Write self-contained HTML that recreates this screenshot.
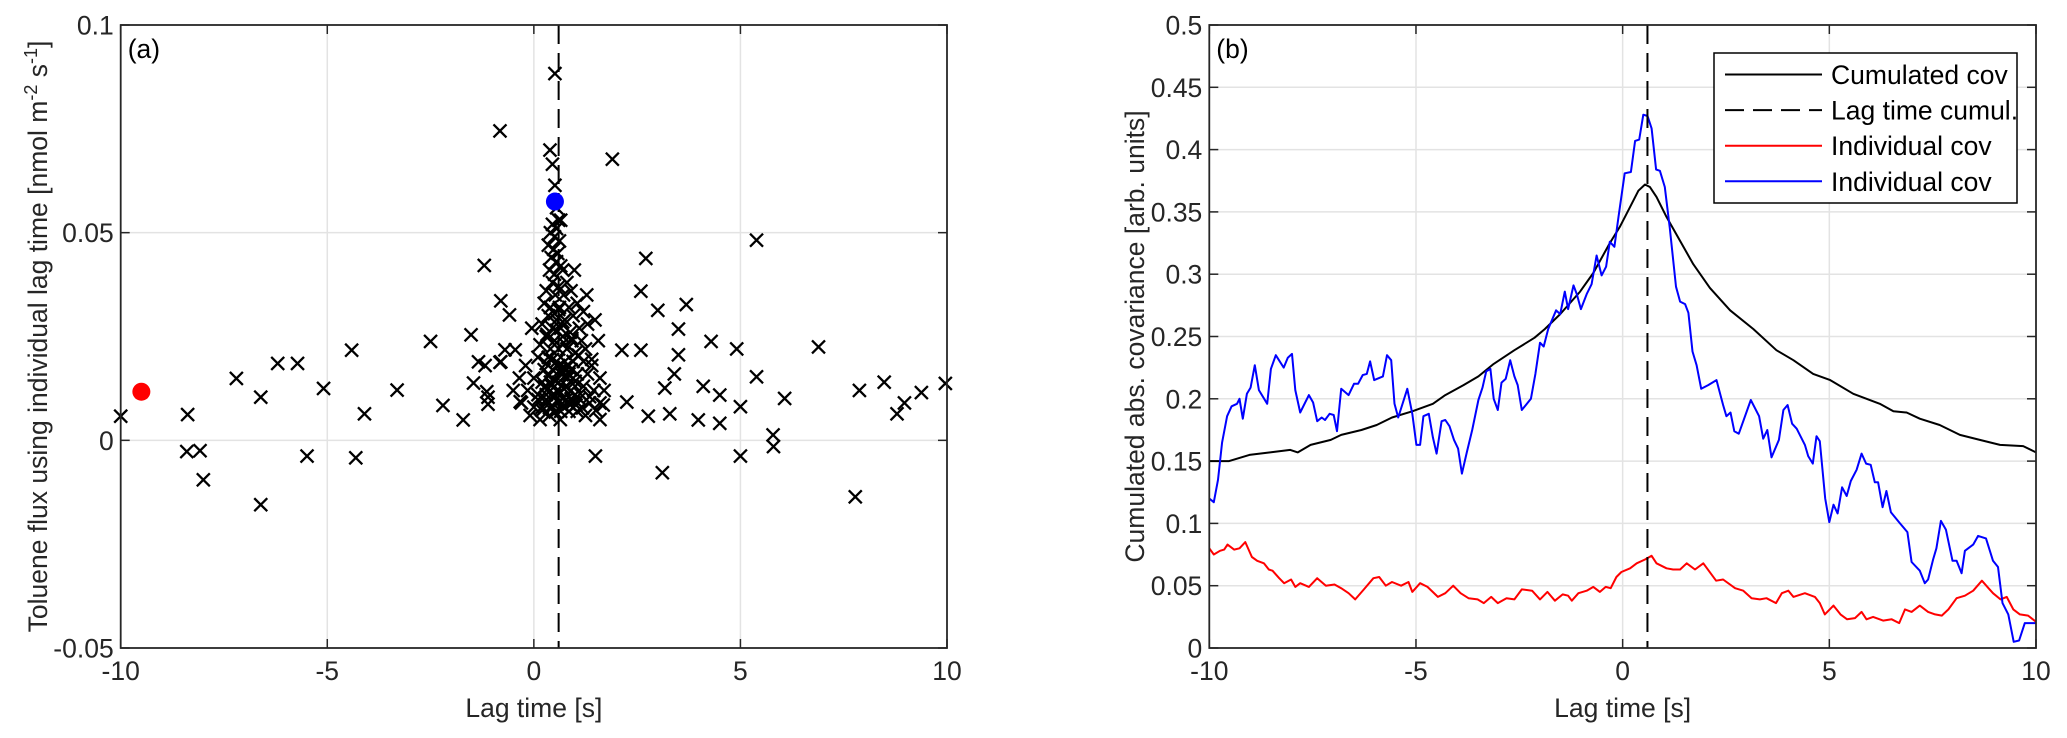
<!DOCTYPE html>
<html><head><meta charset="utf-8"><style>
html,body{margin:0;padding:0;background:#fff}
svg{display:block;font-family:"Liberation Sans",Arial,sans-serif}
</style></head><body>
<svg id="fig" width="2067" height="738" viewBox="0 0 2067 738" xmlns="http://www.w3.org/2000/svg">
<g id="pa"></g>
<g id="pb"></g>
</svg>
<script>
// ---------- Panel (a) data ----------
const scatterX = [-10,-8.38,-8.4,-8.08,-8.0,-7.2,-6.61,-6.61,-6.2,-5.72,-5.49,-5.09,-4.41,-4.31,-4.1,-3.31,-2.5,-2.2,-1.71,-1.52,-1.2,-0.82,-0.8,-0.59,-1.34,-1.46,-1.11,-1.11,-0.8,0.51,0.39,0.45,0.51,1.9,2.71,2.59,3.0,3.69,3.5,1.49,3.11,2.13,2.59,4.29,4.91,4.1,4.5,3.98,4.5,5.0,5.0,2.25,2.77,3.17,3.4,3.5,3.29,6.89,7.88,7.78,8.48,8.79,8.97,9.38,9.96,5.39,5.39,6.07,5.79,5.8,
0.45,0.55,0.6,0.4,0.5,0.62,0.35,0.48,0.58,0.42,0.55,0.65,0.38,0.5,0.7,0.98,0.45,0.6,0.8,0.3,0.52,0.72,0.9,1.28,0.25,0.4,0.62,0.85,1.05,1.2,0.35,0.55,0.75,0.95,1.48,0.2,0.45,0.65,0.88,1.1,1.3,-0.05,0.3,0.5,0.7,0.92,1.15,1.56,0.15,0.4,0.6,0.8,1.0,1.25,-0.45,-0.7,0.1,0.35,0.55,0.75,0.95,1.2,1.4,-0.2,0.25,0.45,0.65,0.85,1.05,1.3,1.6,-0.35,0.0,0.2,0.4,0.6,0.8,1.0,1.2,1.45,1.7,-0.5,-0.15,0.1,0.3,0.5,0.7,0.9,1.1,1.35,1.6,-0.3,0.0,0.2,0.45,0.65,0.85,1.05,1.25,1.6,0.15,0.64,-0.09,0.38,1.68,-0.82,-1.18,-1.14,-0.33,0.55,0.65,
0.3,0.45,0.6,0.75,0.9,0.35,0.5,0.68,0.82,1.0,0.25,0.42,0.58,0.72,0.88,1.12,0.3,0.48,0.62,0.78,0.95,1.35,0.2,0.38,0.52,0.7,0.85,1.02,1.18,1.5,0.1,0.32,0.55,0.72,0.92,1.08,1.4,0.5,0.6,0.7];
const scatterY = [0.0058,0.0062,-0.0027,-0.0025,-0.0095,0.0149,0.0104,-0.0155,0.0185,0.0185,-0.0038,0.0125,0.0217,-0.0042,0.0064,0.0121,0.0238,0.0084,0.0049,0.0254,0.0421,0.0745,0.0336,0.0302,0.0189,0.0138,0.0104,0.0087,0.0189,0.0883,0.0699,0.0665,0.0614,0.0677,0.0438,0.0359,0.0313,0.0327,0.0268,-0.0038,-0.0078,0.0217,0.0217,0.0238,0.022,0.013,0.0109,0.0049,0.0041,0.0081,-0.0038,0.0092,0.0058,0.0126,0.016,0.0206,0.0064,0.0225,0.012,-0.0136,0.014,0.0064,0.009,0.0115,0.0137,0.0482,0.0153,0.0101,0.0013,-0.0015,
0.052,0.051,0.053,0.05,0.049,0.048,0.047,0.046,0.045,0.044,0.043,0.042,0.041,0.04,0.041,0.041,0.038,0.037,0.038,0.036,0.035,0.035,0.036,0.035,0.033,0.032,0.032,0.032,0.033,0.031,0.03,0.029,0.029,0.03,0.029,0.028,0.027,0.027,0.026,0.027,0.028,0.027,0.025,0.024,0.025,0.024,0.024,0.024,0.023,0.022,0.022,0.022,0.021,0.022,0.0218,0.0218,0.02,0.02,0.019,0.019,0.019,0.019,0.018,0.018,0.017,0.017,0.017,0.016,0.016,0.016,0.015,0.015,0.015,0.014,0.014,0.014,0.013,0.013,0.013,0.012,0.012,0.012,0.012,0.011,0.011,0.011,0.01,0.01,0.01,0.009,0.009,0.009,0.008,0.008,0.008,0.007,0.007,0.007,0.006,0.005,0.005,0.005,0.006,0.006,0.0085,0.0188,0.018,0.0117,0.0093,0.056,0.053,
0.0185,0.0195,0.018,0.0175,0.017,0.0155,0.0145,0.0158,0.015,0.0142,0.0128,0.0132,0.0122,0.0125,0.0118,0.0112,0.0098,0.0102,0.0095,0.0098,0.0092,0.0105,0.0072,0.0078,0.0068,0.0082,0.0088,0.0085,0.0078,0.0072,0.0098,0.0255,0.0265,0.0235,0.0245,0.0205,0.0195,0.0305,0.0315,0.0285];
const redPointX = [-9.5], redPointY = [0.0117];
const bluePointX = [0.51], bluePointY = [0.0575];
const lagA = 0.6;
const xTicksA = [-10,-5,0,5,10], xTickLabelsA = ["-10","-5","0","5","10"];
const yTicksA = [0.1,0.05,0,-0.05], yTickLabelsA = ["0.1","0.05","0","-0.05"];

// ---------- Panel (b) data ----------
const blueX = [-10,-9.89,-9.79,-9.69,-9.57,-9.46,-9.33,-9.27,-9.19,-9.09,-9.0,-8.9,-8.8,-8.6,-8.51,-8.39,-8.2,-8.1,-8.0,-7.92,-7.8,-7.59,-7.49,-7.39,-7.28,-7.2,-7.09,-6.99,-6.91,-6.81,-6.63,-6.5,-6.4,-6.29,-6.19,-6.11,-6.01,-5.8,-5.7,-5.6,-5.52,-5.43,-5.21,-5.09,-4.99,-4.9,-4.82,-4.69,-4.59,-4.5,-4.38,-4.29,-4.19,-4.08,-3.98,-3.89,-3.77,-3.64,-3.49,-3.39,-3.3,-3.2,-3.12,-3.02,-2.93,-2.83,-2.72,-2.62,-2.54,-2.44,-2.34,-2.22,-2.11,-2.0,-1.91,-1.8,-1.61,-1.51,-1.4,-1.32,-1.19,-1.11,-1.01,-0.87,-0.75,-0.63,-0.51,-0.4,-0.31,-0.2,-0.1,0.05,0.2,0.3,0.4,0.5,0.6,0.7,0.81,0.9,1.02,1.14,1.29,1.39,1.51,1.59,1.69,1.79,1.9,2.07,2.27,2.43,2.51,2.61,2.7,2.81,3.1,3.3,3.4,3.5,3.6,3.78,3.89,3.99,4.1,4.21,4.41,4.49,4.6,4.69,4.77,4.9,5.0,5.1,5.2,5.31,5.42,5.52,5.66,5.78,5.89,6.0,6.1,6.18,6.29,6.38,6.49,6.71,6.89,6.99,7.19,7.31,7.39,7.51,7.59,7.7,7.82,7.98,8.08,8.2,8.28,8.48,8.6,8.79,8.96,9.08,9.19,9.33,9.46,9.59,9.73,10];
const blueY = [0.12,0.117,0.135,0.165,0.186,0.194,0.196,0.2,0.184,0.204,0.209,0.227,0.207,0.196,0.224,0.235,0.225,0.233,0.236,0.207,0.189,0.203,0.197,0.182,0.185,0.183,0.188,0.187,0.174,0.208,0.203,0.212,0.212,0.219,0.22,0.23,0.215,0.218,0.235,0.231,0.196,0.185,0.208,0.188,0.163,0.163,0.186,0.188,0.169,0.156,0.182,0.183,0.178,0.167,0.16,0.14,0.157,0.175,0.199,0.209,0.222,0.224,0.2,0.191,0.213,0.216,0.231,0.218,0.211,0.191,0.195,0.2,0.22,0.245,0.242,0.256,0.271,0.268,0.286,0.272,0.291,0.284,0.272,0.284,0.292,0.315,0.299,0.306,0.326,0.322,0.346,0.381,0.382,0.407,0.408,0.428,0.427,0.417,0.384,0.383,0.37,0.337,0.29,0.278,0.276,0.269,0.238,0.227,0.208,0.211,0.215,0.195,0.186,0.189,0.174,0.172,0.199,0.186,0.168,0.175,0.153,0.167,0.191,0.195,0.18,0.176,0.163,0.154,0.148,0.17,0.166,0.12,0.101,0.115,0.108,0.129,0.122,0.134,0.143,0.156,0.148,0.147,0.133,0.133,0.113,0.126,0.109,0.1,0.093,0.069,0.062,0.052,0.055,0.071,0.08,0.102,0.095,0.07,0.07,0.06,0.078,0.083,0.09,0.088,0.07,0.065,0.036,0.027,0.005,0.006,0.02,0.02];
const redX = [-10,-9.89,-9.74,-9.64,-9.56,-9.4,-9.27,-9.13,-8.97,-8.84,-8.68,-8.56,-8.47,-8.31,-8.19,-8.02,-7.92,-7.8,-7.59,-7.39,-7.18,-6.97,-6.81,-6.63,-6.47,-6.26,-6.03,-5.89,-5.73,-5.58,-5.36,-5.18,-5.09,-4.9,-4.72,-4.47,-4.29,-4.1,-3.92,-3.73,-3.51,-3.36,-3.18,-3.02,-2.81,-2.62,-2.44,-2.19,-2.0,-1.82,-1.64,-1.45,-1.32,-1.23,-1.07,-0.87,-0.71,-0.55,-0.41,-0.29,-0.15,-0.03,0.18,0.34,0.54,0.7,0.82,1.06,1.22,1.39,1.55,1.75,1.95,2.26,2.43,2.72,2.92,3.12,3.32,3.48,3.71,3.85,4.01,4.13,4.41,4.65,4.77,4.89,5.1,5.27,5.43,5.62,5.78,5.9,6.06,6.3,6.51,6.69,6.83,6.99,7.19,7.39,7.56,7.72,7.88,8.08,8.28,8.48,8.69,8.85,8.96,9.14,9.29,9.45,9.61,9.81,10];
const redY = [0.08,0.075,0.078,0.079,0.083,0.079,0.08,0.085,0.073,0.07,0.068,0.063,0.062,0.056,0.052,0.055,0.049,0.052,0.049,0.056,0.05,0.051,0.048,0.044,0.039,0.047,0.056,0.057,0.05,0.053,0.05,0.053,0.045,0.052,0.049,0.041,0.044,0.05,0.044,0.04,0.039,0.036,0.041,0.036,0.04,0.039,0.047,0.046,0.039,0.045,0.038,0.043,0.042,0.038,0.044,0.046,0.049,0.045,0.049,0.048,0.057,0.061,0.064,0.068,0.071,0.074,0.068,0.064,0.063,0.063,0.068,0.063,0.068,0.054,0.055,0.048,0.046,0.04,0.039,0.04,0.036,0.044,0.046,0.041,0.044,0.041,0.036,0.027,0.034,0.027,0.023,0.024,0.029,0.023,0.025,0.022,0.023,0.02,0.031,0.029,0.034,0.029,0.027,0.026,0.031,0.04,0.042,0.046,0.054,0.048,0.044,0.039,0.041,0.031,0.027,0.026,0.021];
const cumX = [-10,-9.52,-9.03,-8.53,-8.04,-7.86,-7.55,-7.06,-6.81,-6.32,-5.95,-5.58,-5.09,-4.59,-4.29,-3.85,-3.49,-3.12,-2.62,-2.13,-1.88,-1.51,-1.03,-0.71,-0.31,-0.07,0.18,0.38,0.54,0.66,0.82,1.06,1.47,1.71,2.11,2.6,3.16,3.72,4.13,4.61,5.02,5.58,6.22,6.55,6.87,7.19,7.67,8.16,8.64,9.13,9.69,10];
const cumY = [0.15,0.15,0.155,0.157,0.159,0.157,0.163,0.167,0.171,0.175,0.179,0.185,0.19,0.196,0.203,0.211,0.218,0.228,0.239,0.249,0.256,0.268,0.286,0.301,0.325,0.338,0.354,0.367,0.372,0.37,0.362,0.346,0.322,0.308,0.289,0.271,0.256,0.239,0.231,0.22,0.215,0.204,0.196,0.19,0.189,0.184,0.179,0.171,0.167,0.163,0.162,0.157];
const lagB = 0.6;
const xTicksB = [-10,-5,0,5,10], xTickLabelsB = ["-10","-5","0","5","10"];
const yTicksB = [0,0.05,0.1,0.15,0.2,0.25,0.3,0.35,0.4,0.45,0.5];
const yTickLabelsB = ["0","0.05","0.1","0.15","0.2","0.25","0.3","0.35","0.4","0.45","0.5"];
const legendLabels = ["Cumulated cov","Lag time cumul.","Individual cov","Individual cov"];

const NS="http://www.w3.org/2000/svg";
const FS=26.5;
function mk(parent, tag, attrs){const e=document.createElementNS(NS,tag);for(const k in attrs)e.setAttribute(k,attrs[k]);parent.appendChild(e);return e;}
const TOP=25, BOT=648;
const axA={l:120.7,r:947,x0:-10,x1:10,y0:-0.05,y1:0.1};
const axB={l:1209.3,r:2036,x0:-10,x1:10,y0:0,y1:0.5};
function sx(a,v){return a.l+(v-a.x0)/(a.x1-a.x0)*(a.r-a.l);}
function sy(a,v){return BOT-(v-a.y0)/(a.y1-a.y0)*(BOT-TOP);}

function axes(g,a,xt,xl,yt,yl,label){
  for(const t of xt){ if(t===a.x0||t===a.x1) continue;
    const ln=mk(g,'line',{x1:sx(a,t),x2:sx(a,t),y1:TOP,y2:BOT,stroke:'#e3e3e3','stroke-width':1.5});
    
    }
  for(const t of yt){ if(t===a.y0||t===a.y1) continue;
    const ln=mk(g,'line',{x1:a.l,x2:a.r,y1:sy(a,t),y2:sy(a,t),stroke:'#e3e3e3','stroke-width':1.5});
    
    }
  xt.forEach((t,i)=>{const x=sx(a,t);
    mk(g,'line',{x1:x,x2:x,y1:BOT,y2:BOT-9,stroke:'#262626','stroke-width':1.5});
    mk(g,'line',{x1:x,x2:x,y1:TOP,y2:TOP+9,stroke:'#262626','stroke-width':1.5});
    const tx=mk(g,'text',{x:x,y:680,'text-anchor':'middle','font-size':FS,fill:'#262626'});tx.textContent=xl[i];
    
    });
  yt.forEach((t,i)=>{const y=sy(a,t);
    mk(g,'line',{x1:a.l,x2:a.l+9,y1:y,y2:y,stroke:'#262626','stroke-width':1.5});
    mk(g,'line',{x1:a.r,x2:a.r-9,y1:y,y2:y,stroke:'#262626','stroke-width':1.5});
    const tx=mk(g,'text',{x:a.l-7,y:y+9.5,'text-anchor':'end','font-size':FS,fill:'#262626'});tx.textContent=yl[i];
    
    });
  const xlab=mk(g,'text',{x:(a.l+a.r)/2,y:717,'text-anchor':'middle','font-size':FS,fill:'#262626'});xlab.textContent='Lag time [s]';
  
  
  const pl=mk(g,'text',{x:a.l+7,y:58,'font-size':FS,fill:'#000'});pl.textContent=label;
  
  
}
function frame(g,a){const r=mk(g,'rect',{x:a.l,y:TOP,width:a.r-a.l,height:BOT-TOP,fill:'none',stroke:'#262626','stroke-width':1.8});
  
  }

// Panel A
const gA=document.getElementById('pa');
axes(gA,axA,xTicksA,xTickLabelsA,yTicksA,yTickLabelsA,'(a)');
const lagLineA=mk(gA,'line',{x1:sx(axA,lagA),x2:sx(axA,lagA),y1:TOP,y2:BOT,stroke:'#000','stroke-width':2,'stroke-dasharray':'19,9'});


scatterX.forEach((v,i)=>{const x=sx(axA,v),y=sy(axA,scatterY[i]),h=6.5;
  const p=mk(gA,'path',{d:`M${x-h} ${y-h}L${x+h} ${y+h}M${x-h} ${y+h}L${x+h} ${y-h}`,stroke:'#000','stroke-width':2.3,fill:'none'});
  
  });
const rd=mk(gA,'circle',{cx:sx(axA,redPointX[0]),cy:sy(axA,redPointY[0]),r:9,fill:'#ff0000'});


const bd=mk(gA,'circle',{cx:sx(axA,bluePointX[0]),cy:sy(axA,bluePointY[0]),r:9,fill:'#0000ff'});


frame(gA,axA);
const ylA=mk(gA,'text',{transform:`translate(47,${(TOP+BOT)/2}) rotate(-90)`,'text-anchor':'middle','font-size':FS,fill:'#262626'});
ylA.innerHTML='Toluene flux using individual lag time [nmol m<tspan dy="-10" font-size="18">-2</tspan><tspan dy="10"> s</tspan><tspan dy="-10" font-size="18">-1</tspan><tspan dy="10">]</tspan>';



// Panel B
const gB=document.getElementById('pb');
axes(gB,axB,xTicksB,xTickLabelsB,yTicksB,yTickLabelsB,'(b)');
function line(g,xs,ys,col,name){const d=xs.map((v,i)=>(i?'L':'M')+sx(axB,v).toFixed(1)+' '+sy(axB,ys[i]).toFixed(1)).join('');
  const p=mk(g,'path',{d:d,stroke:col,'stroke-width':2,fill:'none','stroke-linejoin':'round'});
  
  }
line(gB,cumX,cumY,'#000','cumulated-cov-line');
line(gB,redX,redY,'#ff0000','individual-cov-red-line');
line(gB,blueX,blueY,'#0000ff','individual-cov-blue-line');
const lagLineB=mk(gB,'line',{x1:sx(axB,lagB),x2:sx(axB,lagB),y1:TOP,y2:BOT,stroke:'#000','stroke-width':2,'stroke-dasharray':'19,9'});


frame(gB,axB);
const ylB=mk(gB,'text',{transform:`translate(1144,${(TOP+BOT)/2}) rotate(-90)`,'text-anchor':'middle','font-size':FS,fill:'#262626'});
ylB.textContent='Cumulated abs. covariance [arb. units]';



// Legend
const lg=mk(gB,'g',{});


mk(lg,'rect',{x:1714,y:53,width:303,height:150,fill:'#fff',stroke:'#000','stroke-width':1.5});
const legCols=['#000','#000','#ff0000','#0000ff'], legDash=['none','19,9','none','none'];
legendLabels.forEach((t,i)=>{const y=74.5+i*35.6;
  const e=mk(lg,'g',{});
  
  
  mk(e,'line',{x1:1725,x2:1822,y1:y,y2:y,stroke:legCols[i],'stroke-width':2,'stroke-dasharray':legDash[i]});
  const tx=mk(e,'text',{x:1831,y:y+9.5,'font-size':FS,fill:'#000'});tx.textContent=t;});
</script>
</body></html>
